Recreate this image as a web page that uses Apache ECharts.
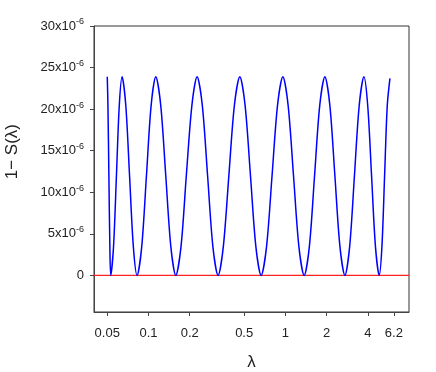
<!DOCTYPE html>
<html>
<head>
<meta charset="utf-8">
<style>
  html, body { margin: 0; padding: 0; background: #fff; }
  #chart { width: 436px; height: 372px; }
</style>
<script src="https://cdn.jsdelivr.net/npm/echarts@6/dist/echarts.min.js"></script>
</head>
<body>
<div id="chart"></div>
<script>
// lambda positions
const lambda = [
  0.05, 0.05058, 0.05139, 0.05222, 0.05302, 0.05558, 0.05832, 0.06118,
  0.06413, 0.06831, 0.07276, 0.0775, 0.08257, 0.08931, 0.09661, 0.1045,
  0.1131, 0.1230, 0.1338, 0.1456, 0.1583, 0.1729, 0.1889, 0.2074,
  0.2265, 0.2475, 0.2704, 0.2953, 0.3226, 0.3523, 0.3863, 0.4238,
  0.4649, 0.5083, 0.5563, 0.6085, 0.6654, 0.7288, 0.7990, 0.8755,
  0.9588, 1.0483, 1.1471, 1.2548, 1.3722, 1.4975, 1.6333, 1.7812,
  1.9444, 2.1147, 2.3006, 2.5028, 2.7227, 2.9492, 3.1944, 3.4604,
  3.7484, 3.9958, 4.2632, 4.5488, 4.8496, 5.0752, 5.3064, 5.5488,
  5.8064
];
// 1 - S(lambda), in units of 1e-6
const oneMinusS = [
  23.9, 20.4, 11.95, 3.5, 0, 3.5, 11.95, 20.4,
  23.9, 20.4, 11.95, 3.5, 0, 3.5, 11.95, 20.4,
  23.9, 20.4, 11.95, 3.5, 0, 3.5, 11.95, 20.4,
  23.9, 20.4, 11.95, 3.5, 0, 3.5, 11.95, 20.4,
  23.9, 20.4, 11.95, 3.5, 0, 3.5, 11.95, 20.4,
  23.9, 20.4, 11.95, 3.5, 0, 3.5, 11.95, 20.4,
  23.9, 20.4, 11.95, 3.5, 0, 3.5, 11.95, 20.4,
  23.9, 20.4, 11.95, 3.5, 0, 3.5, 11.95, 20.4,
  23.7
];
const xTicks = [0.05, 0.1, 0.2, 0.5, 1, 2, 4, 6.2];
const yTicks = [0, 5, 10, 15, 20, 25, 30];
const xRange = [0.04, 8];
const yRange = [-4.4, 30];

const lg = Math.log10;
const xTickPos = xTicks.map(lg);

const chart = echarts.init(document.getElementById('chart'));
chart.setOption({
  animation: false,
  textStyle: { fontFamily: 'Liberation Sans, Arial, sans-serif' },
  grid: {
    left: 94, top: 26, right: 27, bottom: 60,
    outerBoundsMode: 'none',
    containLabel: false,
    show: true, borderColor: '#333', borderWidth: 1
  },
  xAxis: {
    type: 'value',
    min: lg(xRange[0]),
    max: lg(xRange[1]),
    name: 'λ',
    nameLocation: 'middle',
    nameGap: 42,
    nameTextStyle: { fontSize: 17, color: '#222' },
    axisLine: { onZero: false, lineStyle: { color: '#444' } },
    axisTick: { show: true, length: 4, customValues: xTickPos, lineStyle: { color: '#444' } },
    axisLabel: {
      customValues: xTickPos,
      margin: 15,
      fontSize: 13,
      color: '#222',
      formatter: v => {
        const t = xTicks.find(t => Math.abs(lg(t) - v) < 1e-6);
        return t === undefined ? '' : String(t);
      }
    },
    splitLine: { show: false }
  },
  yAxis: {
    type: 'value',
    min: yRange[0],
    max: yRange[1],
    axisLine: { show: true, onZero: false, lineStyle: { color: '#444' } },
    axisTick: { show: true, length: 4, customValues: yTicks, lineStyle: { color: '#444' } },
    axisLabel: {
      customValues: yTicks,
      margin: 10,
      fontSize: 13,
      color: '#222',
      formatter: v => v === 0 ? '0' : v + 'x10{sup|-6}',
      rich: {
        sup: { fontSize: 9, color: '#222', padding: [0, 0, 8, 0] }
      }
    },
    splitLine: { show: false }
  },
  graphic: [{
    type: 'text',
    left: 4,
    top: 124,
    rotation: Math.PI / 2,
    style: { text: '1− S(λ)', fontSize: 17, fill: '#222', fontFamily: 'Liberation Sans, Arial, sans-serif' }
  }],
  series: [
    {
      type: 'line',
      data: [[lg(xRange[0]), 0], [lg(xRange[1]), 0]],
      symbol: 'none',
      lineStyle: { color: '#ff2020', width: 1.2 },
      z: 1
    },
    {
      type: 'line',
      data: lambda.map((l, i) => [lg(l), oneMinusS[i]]),
      symbol: 'none',
      smooth: 0.3,
      lineStyle: { color: '#0000ff', width: 1.5 },
      z: 2
    }
  ]
});
</script>
</body>
</html>
